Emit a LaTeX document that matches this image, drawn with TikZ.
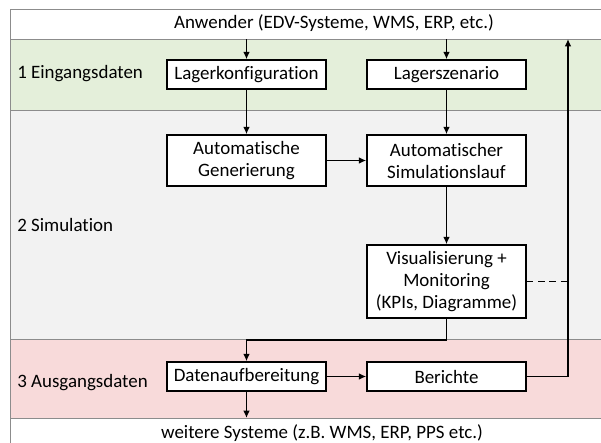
\documentclass[tikz,border=0pt]{standalone}
\usepackage{fontspec}
\setmainfont[Ligatures={NoCommon}]{Carlito}
\usetikzlibrary{arrows.meta}
\definecolor{bandgreen}{HTML}{E4EFDA}
\definecolor{bandgray}{HTML}{F2F2F2}
\definecolor{bandpink}{HTML}{F8DADA}
\definecolor{bandline}{HTML}{8C8C8C}
\tikzset{
  box/.style={draw=black, line width=1.1pt, fill=white, minimum width=119.25pt, inner sep=0pt, align=center, font=\fontsize{14.2}{16.5}\selectfont},
  lbl/.style={inner sep=0pt, font=\fontsize{14.2}{16.5}\selectfont},
  arr/.style={line width=1.35pt, -{Latex[length=5.5pt,width=5pt]}},
  conn/.style={line width=1.35pt},
  bandsep/.style={draw=bandline, line width=0.6pt}
}
\begin{document}
\begin{tikzpicture}[x=0.75pt,y=-0.75pt]
\useasboundingbox (0,0) rectangle (601,443);
% bands
\fill[bandgreen] (10,39) rectangle (601,110);
\fill[bandgray] (10,110) rectangle (601,339);
\fill[bandpink] (10,339) rectangle (601,418);
\draw[bandsep] (10,39) -- (601,39);
\draw[bandsep] (10,110) -- (601,110);
\draw[bandsep] (10,339) -- (601,339);
\draw[bandsep] (10,418) -- (601,418);
\draw[bandsep] (601,9) -- (10,9) -- (10,443);
% labels
\node[lbl] (top) at (334,23) {Anwender (EDV-Systeme, WMS, ERP, etc.)};
\node[lbl] (bottom) at (322,433) {weitere Systeme (z.B. WMS, ERP, PPS etc.)};
\node[lbl, anchor=west] (l1) at (17,74) {1 Eingangsdaten};
\node[lbl, anchor=west] (l2) at (17,225) {2 Simulation};
\node[lbl, anchor=west] (l3) at (17,383) {3 Ausgangsdaten};
% boxes
\node[box, minimum height=21.75pt] (lk) at (246.5,74.5) {Lagerkonfiguration};
\node[box, minimum height=21.75pt] (ls) at (446.5,74.5) {Lagerszenario};
\node[box, minimum height=38.25pt] (gen) at (246.5,160.5) {Automatische\\Generierung};
\node[box, minimum height=38.25pt] (sim) at (446.5,160.5) {Automatischer\\Simulationslauf};
\node[box, minimum height=54.75pt] (vis) at (446.5,281.5) {Visualisierung +\\Monitoring\\(KPIs, Diagramme)};
\node[box, minimum height=21.75pt] (dat) at (246.5,376.5) {Datenaufbereitung};
\node[box, minimum height=21.75pt] (ber) at (446.5,376.5) {Berichte};
% coordinates
\coordinate (in1) at (246.5,39);
\coordinate (in2) at (446.5,39);
\coordinate (out) at (568,39);
\coordinate (mid) at (246.5,340);
\coordinate (down) at (246.5,418);
% connectors
\draw[arr] (in1) -- (lk.north);
\draw[arr] (in2) -- (ls.north);
\draw[arr] (lk.south) -- (gen.north);
\draw[arr] (ls.south) -- (sim.north);
\draw[arr] (gen.east) -- (sim.west);
\draw[arr] (sim.south) -- (vis.north);
\draw[arr] (vis.south) |- (mid) -- (dat.north);
\draw[arr] (dat.east) -- (ber.west);
\draw[arr] (dat.south) -- (down);
\draw[arr] (ber.east) -| (out);
\draw[conn, dashed, dash pattern=on 5pt off 3.5pt] (vis.east) -- (vis.east -| out);
\end{tikzpicture}
\end{document}
